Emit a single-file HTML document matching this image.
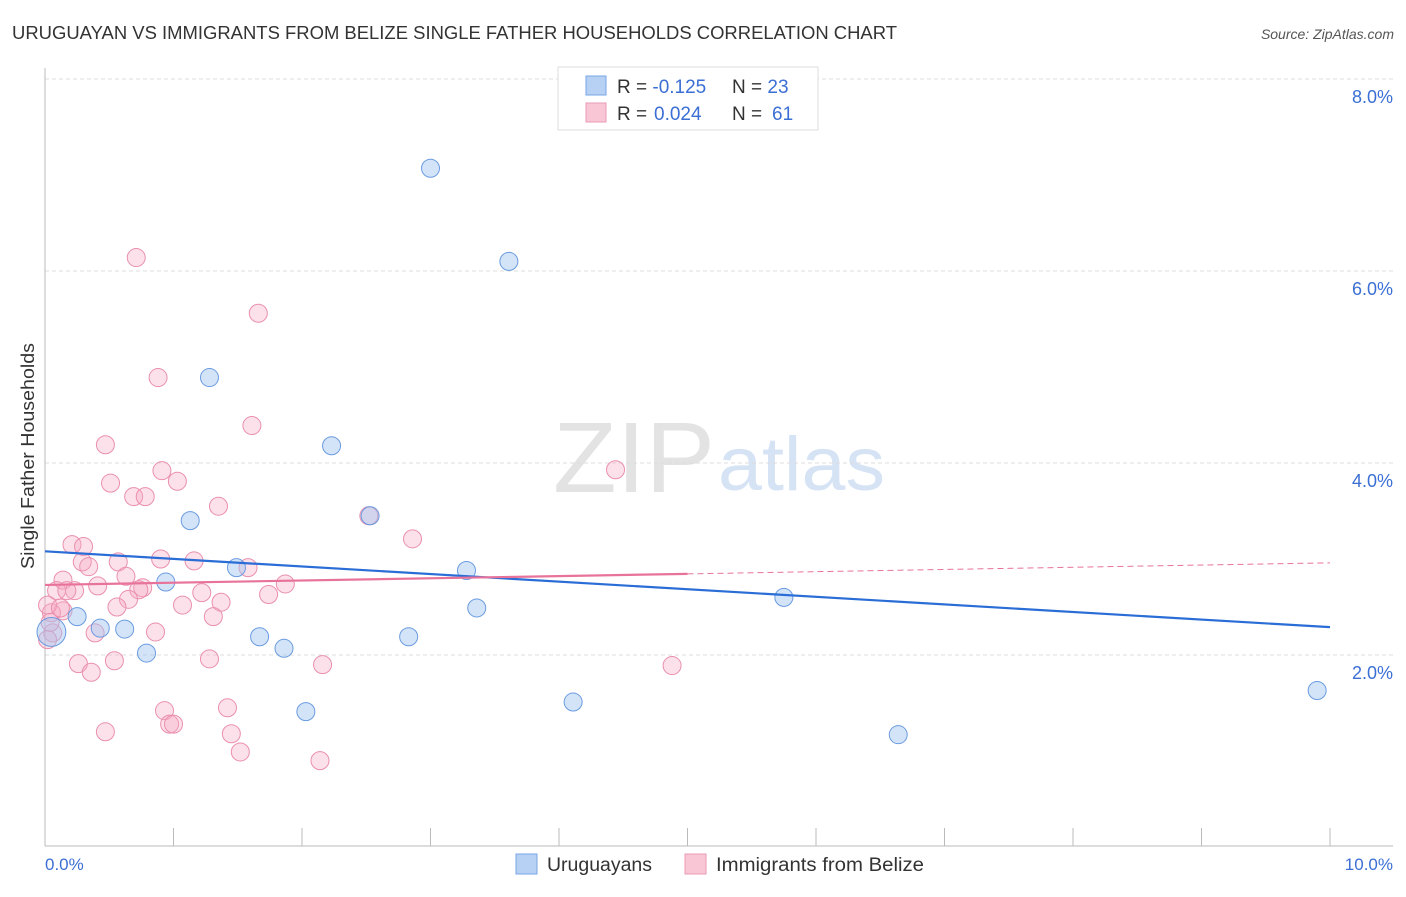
<!DOCTYPE html>
<html><head><meta charset="utf-8"><style>
body{margin:0;background:#fff;font-family:"Liberation Sans",sans-serif;}
svg text{font-family:"Liberation Sans",sans-serif;}
</style></head><body>
<svg id="chart" width="1406" height="892">
<text x="12" y="39" font-size="18" fill="#333" textLength="885" lengthAdjust="spacingAndGlyphs">URUGUAYAN VS IMMIGRANTS FROM BELIZE SINGLE FATHER HOUSEHOLDS CORRELATION CHART</text>
<text x="1394" y="39" font-size="14" fill="#555" font-style="italic" text-anchor="end">Source: ZipAtlas.com</text>
<g>
<text x="553" y="492" font-size="100" fill="#e3e3e3" font-family="Liberation Serif,serif" textLength="162" lengthAdjust="spacingAndGlyphs">ZIP</text>
<text x="718" y="490" font-size="76" fill="#d5e3f5" textLength="167" lengthAdjust="spacingAndGlyphs">atlas</text>
</g>
<g id="grid"></g>
<line x1="45" y1="68" x2="45" y2="846" stroke="#bbb"/>
<line x1="45" y1="846" x2="1393" y2="846" stroke="#bbb"/>
<text transform="translate(34,456) rotate(-90)" font-size="18" fill="#333" text-anchor="middle" textLength="226" lengthAdjust="spacingAndGlyphs">Single Father Households</text>
<text x="45" y="870" font-size="17" fill="#3b6fd4">0.0%</text>
<text x="1393" y="870" font-size="17" fill="#3b6fd4" text-anchor="end">10.0%</text>
<g id="marks"></g>
<g id="lines"></g>
<g>
<rect x="558" y="67" width="260" height="63" fill="#fff" stroke="#ddd"/>
<rect x="586" y="76" width="20" height="19" fill="#b7d1f5" stroke="#7aa5e6"/>
<rect x="586" y="103" width="20" height="19" fill="#f9c6d5" stroke="#eb9ab4"/>
<text x="617" y="93" font-size="19" fill="#333">R = <tspan fill="#3b6fd4">-0.125</tspan><tspan x="732">N = </tspan><tspan fill="#3b6fd4">23</tspan></text>
<text x="617" y="120" font-size="19" fill="#333">R = <tspan x="654" fill="#3b6fd4">0.024</tspan><tspan x="732">N = </tspan><tspan x="772" fill="#3b6fd4">61</tspan></text>
</g>
<g>
<rect x="516" y="854" width="21" height="20" fill="#b7d1f5" stroke="#7aa5e6"/>
<text x="547" y="871" font-size="19" fill="#333" textLength="105" lengthAdjust="spacingAndGlyphs">Uruguayans</text>
<rect x="685" y="854" width="21" height="20" fill="#f9c6d5" stroke="#eb9ab4"/>
<text x="716" y="871" font-size="19" fill="#333" textLength="208" lengthAdjust="spacingAndGlyphs">Immigrants from Belize</text>
</g>
</svg>
<script>
const yTicks=[2,4,6,8];
const yTickLabels=["2.0%","4.0%","6.0%","8.0%"];
const xTicks=[1,2,3,4,5,6,7,8,9,10];
const blueX=[3.00,3.61,1.28,2.23,1.13,2.53,1.49,0.94,3.28,5.75,3.36,0.25,0.62,1.67,2.83,1.86,0.79,2.03,4.11,6.64,9.90,0.05,0.43];
const blueY=[7.07,6.10,4.89,4.18,3.40,3.45,2.91,2.76,2.88,2.60,2.49,2.40,2.27,2.19,2.19,2.07,2.02,1.41,1.51,1.17,1.63,2.24,2.28];
const blueSize=[1,1,1,1,1,1,1,1,1,1,1,1,1,1,1,1,1,1,1,1,1,1.6,1];
const pinkX=[0.71,1.66,0.88,1.61,0.47,0.91,4.44,0.51,1.03,0.69,0.78,1.35,2.52,2.86,0.21,0.30,0.90,1.16,0.29,0.57,0.34,1.58,0.63,0.14,1.87,0.41,0.76,0.73,0.09,0.23,1.22,1.74,0.65,1.37,1.07,0.56,0.14,0.05,1.31,0.86,0.39,0.06,0.26,0.36,0.54,1.28,2.16,4.88,0.93,0.97,1.00,1.42,0.47,1.45,1.52,2.14,0.02,0.17,0.04,0.12,0.02];
const pinkY=[6.14,5.56,4.89,4.39,4.19,3.92,3.93,3.79,3.81,3.65,3.65,3.55,3.45,3.21,3.15,3.13,3.00,2.98,2.97,2.97,2.92,2.91,2.82,2.78,2.74,2.72,2.70,2.68,2.67,2.67,2.65,2.63,2.58,2.55,2.52,2.50,2.46,2.44,2.40,2.24,2.23,2.23,1.91,1.82,1.94,1.96,1.90,1.89,1.42,1.28,1.28,1.45,1.20,1.18,0.99,0.90,2.52,2.67,2.34,2.49,2.16];
const blueTrend=[3.08,2.29];
const pinkTrend=[2.73,2.96];
const pinkSolidEnd=5;
const NS="http://www.w3.org/2000/svg";
const xs=v=>45+v*128.5, ys=v=>847-v*96;
const grid=document.getElementById('grid'),marks=document.getElementById('marks'),lines=document.getElementById('lines');
function mk(tag,a,p){const e=document.createElementNS(NS,tag);for(const k in a)e.setAttribute(k,a[k]);p.appendChild(e);return e;}
yTicks.forEach((t,i)=>{
 const l=mk('line',{x1:45,x2:1393,y1:ys(t),y2:ys(t),stroke:'#ddd','stroke-dasharray':'4,3'},grid);
 
 
 const tx=mk('text',{x:1393,y:ys(t)+24,'font-size':18,fill:'#3b6fd4','text-anchor':'end'},grid);
 tx.textContent=yTickLabels[i];
 
 
});
xTicks.forEach(t=>{
 const l=mk('line',{x1:xs(t),x2:xs(t),y1:828,y2:846,stroke:'#bbb'},grid);
 
 
});
pinkX.forEach((x,i)=>{
 const c=mk('circle',{cx:xs(x),cy:ys(pinkY[i]),r:9,fill:'rgba(245,170,195,0.35)',stroke:'#ea8fae','stroke-width':1},marks);
 
 
});
blueX.forEach((x,i)=>{
 const c=mk('circle',{cx:xs(x),cy:ys(blueY[i]),r:9*blueSize[i],fill:'rgba(160,196,240,0.45)',stroke:'#6a9be0','stroke-width':1},marks);
 
 
});
const bl=mk('line',{x1:xs(0),y1:ys(blueTrend[0]),x2:xs(10),y2:ys(blueTrend[1]),stroke:'#2a6dd6','stroke-width':2.2},lines);


const pm=pinkTrend[0]+(pinkTrend[1]-pinkTrend[0])*pinkSolidEnd/10;
const pl=mk('line',{x1:xs(0),y1:ys(pinkTrend[0]),x2:xs(pinkSolidEnd),y2:ys(pm),stroke:'#e8739a','stroke-width':2.2},lines);


const pd=mk('line',{x1:xs(pinkSolidEnd),y1:ys(pm),x2:xs(10),y2:ys(pinkTrend[1]),stroke:'#e8739a','stroke-width':1,'stroke-dasharray':'6,4'},lines);


</script>
</body></html>
